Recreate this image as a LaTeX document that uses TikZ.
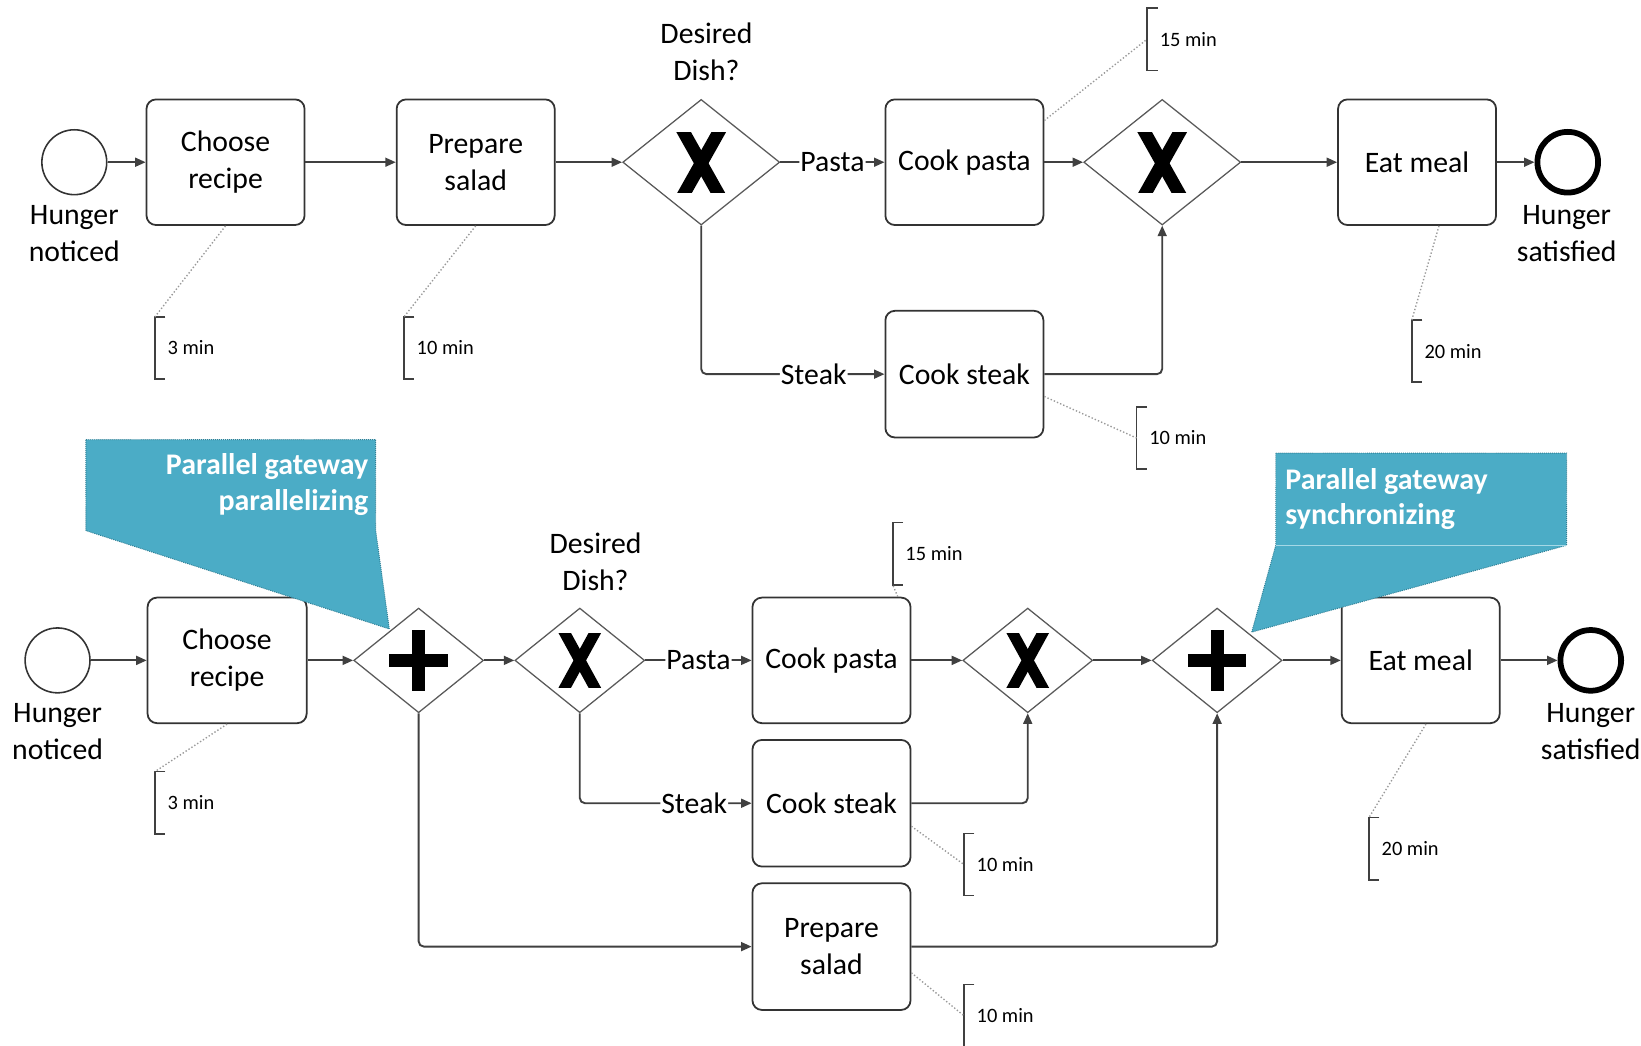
\documentclass[tikz,border=0pt]{standalone}
\usepackage{fontspec}
\setmainfont{Carlito}
\usetikzlibrary{shapes.geometric,arrows.meta,calc}
\definecolor{callfill}{HTML}{4BACC6}
\definecolor{calldraw}{HTML}{2F7F95}
\definecolor{callline}{HTML}{A5D8E6}
\newcommand\mainfnt{\fontsize{28.4}{35.5}\selectfont}
\newcommand\annfnt{\fontsize{19.5}{22}\selectfont}
\newcommand\callfnt{\fontsize{28.6}{34}\selectfont\bfseries}
\begin{document}
\begin{tikzpicture}[x=1pt,y=-1pt,
  task/.style={draw=black!80, line width=1.7pt, rounded corners=9pt, minimum width=151pt, minimum height=120pt, align=center, inner sep=0pt, font=\mainfnt, fill=white},
  gw/.style={diamond, draw=black!65, line width=1.2pt, inner sep=0pt, minimum width=150pt, minimum height=120pt, fill=white},
  gws/.style={gw, minimum width=124pt, minimum height=100pt},
  startev/.style={circle, draw=black!80, line width=1.5pt, minimum size=62pt, inner sep=0pt},
  endev/.style={circle, draw=black, line width=5.5pt, minimum size=58pt, inner sep=0pt},
  flow/.style={draw=black!75, line width=1.8pt, -{Triangle[length=10pt,width=8.5pt]}, rounded corners=5pt},
  lbl/.style={font=\mainfnt, align=center, inner sep=0pt},
  flowlbl/.style={font=\mainfnt, fill=white, inner xsep=1pt, inner ysep=0pt},
  annot/.style={font=\annfnt, anchor=west, minimum height=59pt, inner xsep=12pt, inner ysep=0pt},
  brk/.style={draw=black!75, line width=1.5pt},
  assoc/.style={draw=black!40, line width=1.3pt, dotted},
  callout/.style={fill=callfill, draw=calldraw, line width=0.9pt, densely dotted},
  calltxt/.style={font=\callfnt, text=white, inner sep=0pt}
]
\fill[white] (0,0) rectangle (1568,999);
\useasboundingbox (0,0) rectangle (1568,999);

% ---------------- top process ----------------
\node[startev] (s1) at (71,155) {};
\node[lbl] (s1l) at (71,223) {Hunger\\noticed};
\node[task] (t1a) at (215.5,155) {Choose\\recipe};
\node[task] (t1b) at (454.5,155) {Prepare\\salad};
\node[gw] (g1) at (670,155) {};
\node[lbl] (g1l) at (675,49.5) {Desired\\Dish?};
\node[task] (tp) at (921.5,155) {Cook pasta};
\node[task, minimum height=121pt] (ts) at (921.5,357.5) {Cook steak};
\node[gw] (g2) at (1110.5,155) {};
\node[task] (em) at (1354,155) {Eat meal};
\node[endev] (e1) at (1498,155) {};
\node[lbl] (e1l) at (1497,223) {Hunger\\satisfied};

\draw[flow] (s1) -- (t1a);
\draw[flow] (t1a) -- (t1b);
\draw[flow] (t1b) -- (g1);
\draw[flow] (g1) -- node[flowlbl]{Pasta} (tp);
\draw[flow] (tp) -- (g2);
\draw[flow] (g2) -- (em);
\draw[flow] (em) -- (e1);
\draw[flow] (g1.south) |- node[flowlbl,pos=0.807]{Steak} (ts.west);
\draw[flow] (ts.east) -| (g2.south);

% ---------------- bottom process ----------------
\node[startev] (s2) at (55,631) {};
\node[lbl] (s2l) at (55,699) {Hunger\\noticed};
\node[task, minimum width=152pt] (cr2) at (217,631) {Choose\\recipe};
\node[gws] (p1) at (400,631) {};
\node[gws] (x1) at (554,631) {};
\node[lbl] (x1l) at (569,536.5) {Desired\\Dish?};
\node[task] (cp2) at (794.5,631) {Cook pasta};
\node[task, minimum height=121pt] (cs2) at (794.5,767.5) {Cook steak};
\node[task, minimum height=121pt] (ps2) at (794.5,904.5) {Prepare\\salad};
\node[gws] (x2) at (982,631) {};
\node[gws] (p2) at (1163,631) {};
\node[task] (em2) at (1357.5,631) {Eat meal};
\node[endev] (e2) at (1520,631) {};
\node[lbl] (e2l) at (1520,699) {Hunger\\satisfied};

\draw[flow] (s2) -- (cr2);
\draw[flow] (cr2) -- (p1);
\draw[flow] (p1) -- (x1);
\draw[flow] (x1) -- node[flowlbl]{Pasta} (cp2);
\draw[flow] (cp2) -- (x2);
\draw[flow] (x2) -- (p2);
\draw[flow] (p2) -- (em2);
\draw[flow] (em2) -- (e2);
\draw[flow] (x1.south) |- node[flowlbl,pos=0.833]{Steak} (cs2.west);
\draw[flow] (cs2.east) -| (x2.south);
\draw[flow] (p1.south) |- (ps2.west);
\draw[flow] (ps2.east) -| (p2.south);

% ---------------- gateway markers ----------------
\foreach \g in {g1,g2} {
  \begin{scope}
    \clip ($(\g)+(-30,-28)$) rectangle ($(\g)+(30,29)$);
    \draw[line width=12.2pt] ($(\g)+(-19.4,-33.5)$) -- ($(\g)+(19.4,35.5)$);
    \draw[line width=12.2pt] ($(\g)+(19.4,-33.5)$) -- ($(\g)+(-19.4,35.5)$);
  \end{scope}
}
\foreach \g in {x1,x2} {
  \begin{scope}
    \clip ($(\g)+(-26,-25.5)$) rectangle ($(\g)+(26,25.5)$);
    \draw[line width=10.5pt] ($(\g)+(-16.75,-30.5)$) -- ($(\g)+(16.75,30.5)$);
    \draw[line width=10.5pt] ($(\g)+(16.75,-30.5)$) -- ($(\g)+(-16.75,30.5)$);
  \end{scope}
}
\foreach \g in {p1,p2} {
  \draw[line width=12.5pt] ($(\g)+(-28,0)$) -- ($(\g)+(28,0)$);
  \draw[line width=12.5pt] ($(\g)+(0,-29)$) -- ($(\g)+(0,29)$);
}

% ---------------- annotations ----------------
\node[annot] (a1) at (148,332.5) {3 min};
\node[annot] (a2) at (386,332.5) {10 min};
\node[annot] (a3) at (1096,37.5) {15 min};
\node[annot] (a4) at (1086,418.5) {10 min};
\node[annot] (a5) at (1349,335.5) {20 min};
\node[annot] (b1) at (148,767) {3 min};
\node[annot] (b2) at (853,529) {15 min};
\node[annot] (b3) at (921,826) {10 min};
\node[annot] (b4) at (921,970.5) {10 min};
\node[annot] (b5) at (1308,811) {20 min};
\foreach \n in {a1,a2,a3,a4,a5,b1,b2,b3,b4,b5} {
  \draw[brk] ([xshift=10pt]\n.north west) -- (\n.north west) -- (\n.south west) -- ([xshift=10pt]\n.south west);
}
\draw[assoc] (t1a.south) -- (a1.north west);
\draw[assoc] (t1b.south) -- (a2.north west);
\draw[assoc] ([yshift=-21pt]tp.north east) -- (a3.west);
\draw[assoc] ([yshift=40pt]ts.south east) -- (a4.west);
\draw[assoc] ([xshift=21pt]em.south) -- (a5.north west);
\draw[assoc] (cr2.south) -- (b1.north west);
\draw[assoc] ([xshift=-13pt]cp2.north east) -- (b2.south west);
\draw[assoc] ([yshift=-22pt]cs2.east) -- (b3.west);
\draw[assoc] ([yshift=-25pt]ps2.east) -- (b4.west);
\draw[assoc] ([xshift=5pt]em2.south) -- (b5.north west);

% ---------------- callouts ----------------
\path[callout] (82,420) -- (359,420) -- (359,507) -- (372,601) -- (82,507) -- cycle;
\node[calltxt, anchor=east, align=right] (c1) at (352,463) {Parallel gateway\\parallelizing};
\path[callout] (1219,433) -- (1497,433) -- (1497,521) -- (1196,604) -- (1219,521) -- cycle;
\draw[callline, line width=0.8pt] (1219.5,521) -- (1496.5,521);
\node[calltxt, anchor=west, align=left] (c2) at (1228,477) {Parallel gateway\\synchronizing};
\end{tikzpicture}
\end{document}
